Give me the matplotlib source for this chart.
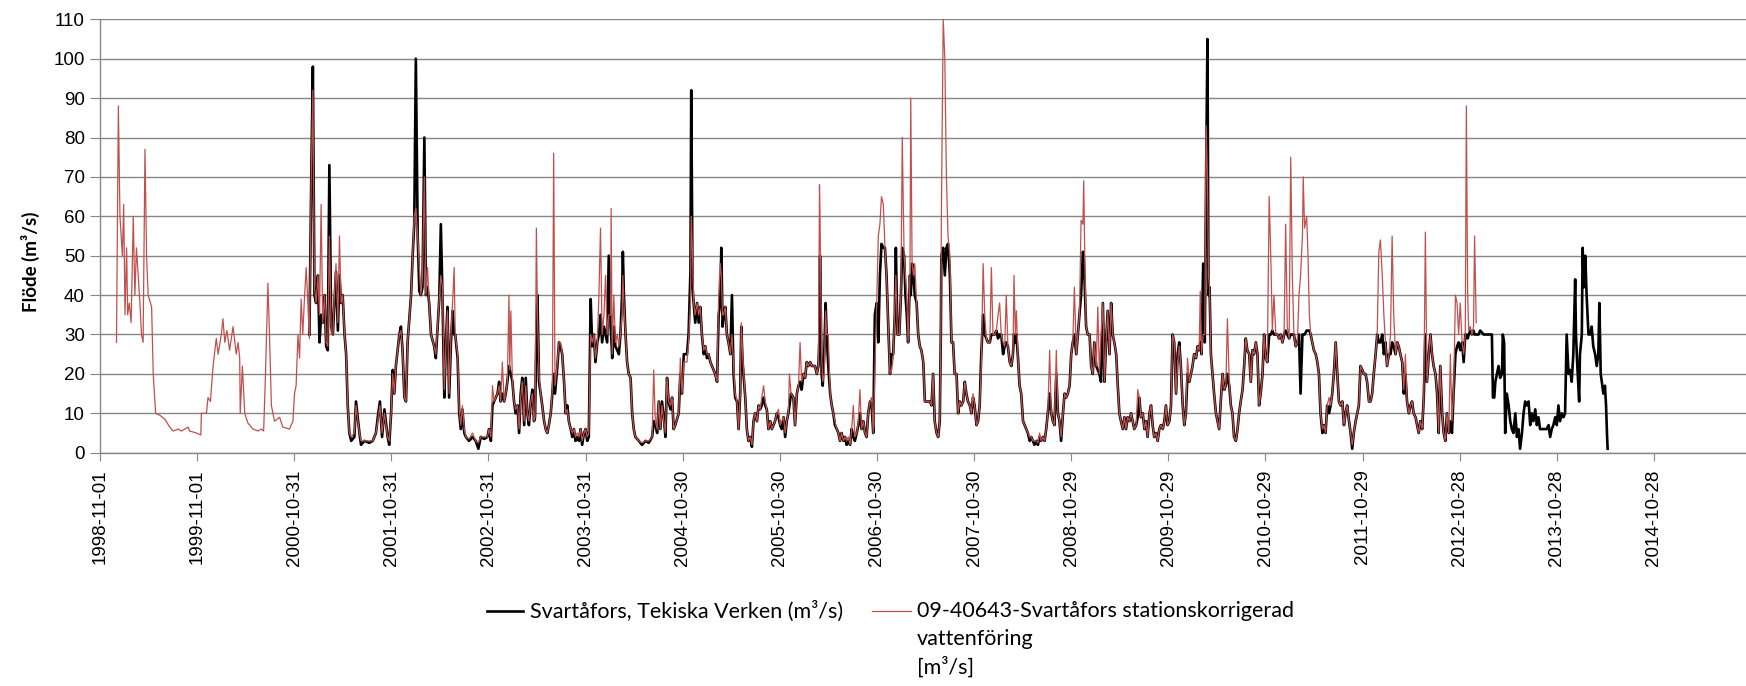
import numpy as np
import matplotlib.pyplot as plt
from matplotlib.lines import Line2D

start = np.datetime64('1998-11-01')

# red series only (before the black series starts), days since 1998-11-01
red_days_early = [62, 69, 75, 84, 89, 94, 100, 104, 110, 117, 125, 131, 137, 150, 156, 162, 169, 175,
                  181, 194, 200, 209, 225, 244, 262, 275, 294, 306, 331, 337, 362, 379, 381, 400, 406,
                  415, 425, 437, 444, 456, 462, 469, 477, 487, 500, 512, 519, 525, 527, 535, 544, 556,
                  575, 594, 606, 615, 622, 631, 637, 644, 656, 675, 687, 712, 725, 731, 737, 744, 750,
                  756, 762, 769, 775, 781]
red_early = [28, 88, 60, 50, 63, 35, 52, 35, 38, 33, 60, 40, 52, 38, 30, 28, 77, 50,
             40, 37, 20, 10, 9.5, 8.5, 6.5, 5.5, 6, 5.5, 6.5, 5.5, 5, 4.5, 10, 10, 14,
             13, 22, 29, 25, 30, 34, 28, 31, 26, 32, 25, 28, 24, 10, 22, 10, 7.5,
             6, 5.5, 6, 5.5, 20, 43, 30, 12, 8, 9, 6.5, 6, 8, 15, 17, 30, 24,
             39, 30, 40, 47, 38]

# period where both series exist: (day, black, red)
both = [
    (787, 30, 29), (794, 70, 70), (800, 98, 92), (806, 40, 42), (812, 38, 38), (819, 45, 45),
    (825, 28, 35), (831, 35, 63), (837, 33, 33), (844, 40, 40), (850, 27, 28), (856, 26, 27),
    (862, 73, 55), (869, 32, 30), (875, 30, 30), (881, 38, 40), (887, 46, 48), (894, 31, 33),
    (900, 45, 55), (906, 38, 38), (912, 40, 40), (919, 30, 30), (925, 25, 25), (931, 12, 12),
    (937, 5, 5), (944, 3, 4), (956, 4, 5), (962, 13, 12), (975, 5, 5), (981, 2, 3), (994, 3, 3),
    (1012, 2.5, 3), (1025, 3, 3), (1037, 5, 5), (1044, 9, 8), (1052, 13, 12), (1060, 4, 5),
    (1069, 11, 10), (1081, 4, 4), (1087, 2, 3), (1094, 10, 10), (1100, 21, 20), (1106, 15, 15),
    (1112, 22, 22), (1125, 30, 30), (1131, 32, 31), (1137, 26, 26), (1144, 14, 14), (1150, 13, 13),
    (1156, 28, 28), (1169, 40, 40), (1175, 50, 50), (1181, 58, 60), (1187, 100, 62), (1194, 55, 55),
    (1200, 41, 47), (1206, 40, 40), (1212, 42, 45), (1219, 80, 70), (1225, 40, 40), (1231, 42, 47),
    (1237, 38, 38), (1244, 30, 30), (1256, 27, 27), (1262, 24, 25), (1275, 39, 39), (1281, 58, 45),
    (1287, 40, 42), (1294, 14, 16), (1300, 28, 28), (1306, 37, 36), (1312, 14, 15), (1319, 28, 30),
    (1325, 36, 38), (1331, 30, 47), (1335, 30, 30), (1344, 24, 25), (1350, 10, 11), (1356, 6, 7),
    (1362, 11, 12), (1369, 5, 6), (1375, 4, 4), (1387, 3, 3.5), (1400, 4, 5), (1412, 3, 3),
    (1422, 1, 2.5), (1431, 4, 4), (1444, 3.5, 4), (1456, 4, 4), (1462, 6, 6), (1469, 3, 4),
    (1475, 12, 17), (1481, 13, 13), (1494, 15, 15), (1500, 18, 17), (1506, 13, 13), (1512, 15, 23),
    (1519, 13, 13), (1525, 15, 15), (1531, 18, 18), (1537, 22, 40), (1540, 21, 21), (1544, 20, 36),
    (1550, 18, 18), (1556, 13, 13), (1562, 10, 11), (1569, 12, 12), (1575, 5, 6), (1581, 15, 14),
    (1587, 19, 18), (1594, 7, 8), (1600, 19, 17), (1606, 10, 10), (1612, 7, 8), (1619, 13, 13),
    (1625, 16, 15), (1631, 8, 8), (1635, 9, 9), (1640, 30, 57), (1644, 40, 35), (1650, 18, 20),
    (1656, 15, 15), (1662, 12, 12), (1669, 8, 8), (1675, 6, 6), (1681, 5, 5), (1687, 7, 7),
    (1694, 10, 10), (1700, 15, 16), (1705, 20, 76), (1710, 15, 17), (1719, 22, 23), (1725, 28, 28),
    (1731, 27, 28), (1737, 25, 25), (1744, 18, 18), (1750, 10, 10), (1756, 12, 11), (1762, 8, 8),
    (1769, 6, 6), (1775, 4, 5), (1781, 6, 6), (1787, 3, 4), (1794, 4, 5), (1800, 3, 4), (1806, 6, 6),
    (1812, 2, 3), (1819, 5, 5), (1825, 6, 6), (1831, 3, 4), (1837, 4, 5), (1844, 39, 30),
    (1850, 27, 28), (1856, 30, 30), (1862, 23, 24), (1869, 28, 28), (1875, 30, 40), (1881, 35, 57),
    (1887, 28, 30), (1894, 32, 35), (1900, 30, 45), (1906, 28, 30), (1912, 50, 35), (1919, 32, 35),
    (1921, 30, 62), (1925, 24, 25), (1931, 32, 40), (1937, 27, 28), (1944, 26, 30), (1950, 25, 27),
    (1956, 30, 30), (1962, 40, 35), (1965, 51, 45), (1969, 40, 38), (1975, 30, 30), (1981, 23, 23),
    (1987, 20, 20), (1994, 19, 19), (2000, 10, 10), (2006, 6, 6), (2012, 4, 4), (2025, 3, 3),
    (2037, 2, 2.5), (2050, 3, 3), (2062, 2.5, 3), (2075, 4, 4), (2081, 8, 21), (2087, 7, 8),
    (2094, 5, 6), (2100, 13, 13), (2106, 6, 6), (2112, 13, 12), (2119, 9, 8), (2125, 4, 5),
    (2131, 19, 19), (2137, 13, 13), (2144, 11, 12), (2150, 14, 14), (2156, 6, 6), (2162, 7, 7),
    (2175, 10, 10), (2181, 20, 24), (2187, 15, 15), (2194, 25, 23), (2206, 25, 23), (2212, 30, 28),
    (2219, 46, 38), (2222, 92, 60), (2227, 42, 50), (2231, 38, 38), (2237, 33, 35), (2244, 38, 38),
    (2250, 33, 35), (2256, 37, 37), (2262, 30, 30), (2269, 25, 26), (2275, 27, 27), (2281, 24, 25),
    (2287, 25, 25), (2294, 23, 23), (2300, 22, 22), (2306, 21, 21), (2312, 20, 20), (2319, 18, 18),
    (2325, 35, 40), (2331, 38, 48), (2335, 52, 45), (2340, 32, 35), (2344, 35, 35), (2350, 37, 37),
    (2356, 30, 30), (2362, 28, 28), (2369, 25, 25), (2375, 40, 30), (2381, 20, 22), (2387, 14, 15),
    (2394, 13, 13), (2400, 6, 6), (2406, 15, 15), (2410, 32, 33), (2415, 23, 25), (2425, 14, 14),
    (2431, 6, 6), (2437, 3, 3), (2444, 4, 4), (2450, 1.5, 2), (2456, 8, 8), (2462, 10, 10),
    (2469, 8, 8), (2475, 12, 12), (2481, 11, 11), (2487, 12, 14), (2494, 14, 17), (2500, 12, 13),
    (2506, 11, 11), (2512, 6, 6), (2519, 8, 8), (2525, 6, 6), (2537, 8, 8), (2544, 10, 10),
    (2550, 9, 11), (2556, 7, 7), (2562, 6, 8), (2569, 9, 9), (2575, 4, 5), (2581, 8, 8),
    (2587, 10, 10), (2591, 12, 20), (2597, 15, 15), (2606, 14, 14), (2612, 7, 7), (2619, 15, 15),
    (2625, 17, 17), (2631, 18, 28), (2637, 16, 18), (2644, 20, 20), (2650, 19, 19), (2656, 23, 23),
    (2662, 22, 22), (2669, 23, 23), (2675, 22, 22), (2687, 22, 22), (2694, 20, 20), (2700, 22, 22),
    (2704, 30, 68), (2706, 50, 60), (2712, 20, 25), (2716, 17, 18), (2722, 25, 20), (2727, 38, 36),
    (2731, 30, 30), (2737, 22, 30), (2744, 15, 15), (2750, 12, 12), (2756, 10, 10), (2762, 7, 8),
    (2769, 6, 6), (2775, 5, 5), (2781, 3, 3), (2787, 5, 5), (2794, 3, 3), (2800, 4, 4), (2806, 2, 3),
    (2812, 3, 4), (2819, 2, 2), (2825, 6, 6), (2831, 4, 12), (2837, 3, 4), (2844, 5, 5),
    (2850, 7, 8), (2856, 10, 16), (2862, 6, 6), (2869, 8, 8), (2875, 5, 5), (2881, 4, 4),
    (2887, 10, 10), (2894, 13, 13), (2900, 12, 14), (2906, 5, 5), (2912, 35, 20), (2919, 38, 38),
    (2925, 28, 55), (2931, 45, 58), (2937, 53, 65), (2944, 52, 63), (2950, 52, 52), (2956, 45, 45),
    (2962, 33, 33), (2969, 20, 20), (2975, 25, 21), (2981, 25, 24), (2987, 35, 37), (2991, 52, 45),
    (2997, 30, 30), (3004, 30, 30), (3010, 40, 40), (3015, 52, 80), (3022, 50, 50), (3027, 40, 45),
    (3032, 35, 40), (3037, 28, 28), (3044, 45, 45), (3047, 40, 90), (3052, 48, 48), (3057, 45, 45),
    (3062, 40, 48), (3069, 38, 38), (3075, 30, 30), (3081, 27, 27), (3087, 26, 26), (3094, 23, 23),
    (3100, 13, 13), (3106, 13, 13), (3112, 13, 13), (3119, 13, 13), (3125, 12, 12), (3131, 20, 20),
    (3137, 8, 8), (3144, 5, 5), (3150, 4, 4), (3156, 8, 8), (3160, 30, 30), (3162, 50, 60),
    (3169, 52, 110), (3175, 45, 100), (3181, 52, 70), (3187, 53, 55), (3194, 45, 50), (3200, 28, 28),
    (3206, 28, 28), (3212, 20, 20), (3219, 20, 20), (3225, 10, 10), (3231, 13, 13), (3237, 12, 12),
    (3244, 13, 13), (3250, 18, 18), (3256, 15, 15), (3262, 13, 13), (3269, 12, 12), (3275, 10, 10),
    (3281, 14, 15), (3287, 12, 12), (3294, 7, 7), (3300, 8, 8), (3306, 12, 12), (3312, 25, 22),
    (3319, 35, 48), (3325, 30, 35), (3331, 29, 29), (3337, 28, 28), (3344, 28, 28), (3350, 30, 47),
    (3356, 30, 30), (3362, 30, 30), (3369, 31, 31), (3375, 29, 35), (3381, 30, 38), (3387, 30, 30),
    (3394, 25, 28), (3400, 27, 27), (3406, 28, 40), (3412, 27, 27), (3419, 23, 23), (3425, 22, 22),
    (3431, 25, 25), (3435, 30, 45), (3440, 28, 30), (3444, 30, 36), (3450, 24, 24), (3456, 17, 17),
    (3462, 15, 15), (3469, 8, 8), (3475, 7, 7), (3481, 6, 6), (3487, 5, 5), (3494, 3, 4),
    (3500, 4, 4), (3506, 3, 3), (3512, 2, 3), (3519, 3, 3), (3525, 2, 2.5), (3531, 4, 5),
    (3537, 3, 3), (3544, 4, 4), (3550, 3, 3), (3556, 6, 6), (3562, 10, 10), (3569, 15, 26),
    (3575, 10, 10), (3581, 8, 8), (3587, 7, 7), (3594, 20, 26), (3600, 10, 10), (3606, 8, 8),
    (3612, 3, 4), (3619, 10, 10), (3625, 15, 15), (3631, 14, 14), (3637, 15, 15), (3644, 17, 17),
    (3650, 25, 25), (3656, 28, 28), (3662, 30, 42), (3669, 25, 25), (3675, 30, 30), (3681, 35, 35),
    (3687, 40, 59), (3694, 51, 58), (3697, 50, 69), (3702, 40, 45), (3706, 32, 32), (3712, 30, 30),
    (3719, 30, 30), (3725, 22, 22), (3731, 20, 20), (3737, 28, 28), (3744, 22, 22), (3750, 21, 37),
    (3756, 20, 20), (3762, 18, 30), (3769, 38, 38), (3775, 18, 18), (3781, 28, 28), (3787, 36, 36),
    (3794, 25, 25), (3800, 38, 38), (3806, 30, 30), (3812, 28, 28), (3819, 25, 25), (3825, 17, 17),
    (3831, 10, 10), (3837, 8, 8), (3844, 6, 6), (3850, 9, 9), (3856, 6, 6), (3862, 9, 9),
    (3869, 8, 8), (3875, 10, 10), (3881, 8, 8), (3887, 6, 6), (3894, 7, 7), (3900, 9, 16),
    (3906, 14, 14), (3912, 9, 9), (3919, 10, 10), (3925, 6, 6), (3931, 8, 8), (3937, 4, 4),
    (3944, 10, 10), (3950, 12, 12), (3956, 7, 7), (3962, 4, 4), (3969, 5, 5), (3975, 3, 3),
    (3981, 6, 6), (3987, 7, 7), (3994, 6, 6), (4000, 8, 8), (4006, 12, 12), (4012, 7, 7),
    (4019, 8, 8), (4025, 12, 12), (4031, 30, 30), (4037, 28, 28), (4044, 15, 15), (4050, 25, 23),
    (4056, 28, 27), (4062, 22, 22), (4069, 12, 12), (4075, 7, 7), (4081, 10, 10), (4087, 20, 24),
    (4094, 18, 18), (4100, 20, 20), (4106, 22, 22), (4112, 25, 25), (4119, 24, 24), (4125, 27, 27),
    (4131, 26, 26), (4135, 28, 41), (4140, 25, 25), (4146, 48, 30), (4152, 28, 30), (4157, 70, 83),
    (4162, 105, 70), (4166, 40, 45), (4170, 42, 42), (4175, 25, 25), (4181, 20, 20), (4187, 15, 15),
    (4194, 10, 10), (4200, 8, 8), (4206, 6, 6), (4212, 13, 13), (4219, 20, 20), (4225, 16, 16),
    (4231, 17, 17), (4237, 20, 34), (4244, 17, 18), (4250, 12, 12), (4256, 10, 10), (4262, 4, 4),
    (4269, 3, 3), (4275, 6, 6), (4281, 10, 10), (4287, 13, 13), (4294, 16, 16), (4300, 22, 22),
    (4306, 29, 29), (4312, 26, 26), (4319, 25, 25), (4325, 18, 18), (4331, 26, 26), (4337, 25, 25),
    (4344, 28, 28), (4350, 25, 25), (4356, 12, 12), (4362, 15, 15), (4369, 20, 20), (4375, 30, 30),
    (4381, 24, 24), (4387, 23, 23), (4394, 30, 65), (4400, 30, 50), (4406, 31, 31), (4412, 30, 40),
    (4419, 30, 30), (4425, 30, 30), (4431, 29, 29), (4437, 30, 30), (4444, 28, 28), (4450, 30, 30),
    (4456, 31, 58), (4462, 30, 32), (4469, 29, 29), (4475, 30, 75), (4481, 30, 45), (4487, 30, 30),
    (4494, 27, 27), (4500, 28, 28), (4506, 30, 40), (4512, 15, 45), (4519, 30, 55), (4522, 30, 70),
    (4527, 30, 57), (4535, 31, 60), (4540, 31, 50), (4545, 31, 35), (4550, 30, 30), (4556, 28, 28),
    (4562, 26, 26), (4569, 25, 25), (4575, 23, 23), (4581, 20, 20), (4587, 10, 10), (4594, 5, 6),
    (4600, 7, 7), (4606, 5, 5), (4612, 12, 12), (4619, 10, 14), (4625, 12, 12), (4631, 15, 15),
    (4637, 20, 20), (4644, 28, 28), (4650, 20, 20), (4656, 13, 13), (4662, 12, 12), (4669, 13, 13),
    (4675, 7, 7), (4681, 10, 10), (4687, 12, 12), (4694, 8, 8), (4700, 5, 5), (4706, 1, 2),
    (4712, 5, 5), (4719, 8, 8), (4725, 10, 10), (4731, 12, 12), (4737, 22, 22), (4744, 21, 21),
    (4750, 20, 20), (4756, 20, 20), (4762, 18, 18), (4769, 13, 13), (4775, 13, 13), (4781, 15, 15),
    (4787, 20, 20), (4794, 25, 25), (4800, 30, 30), (4806, 28, 51), (4812, 28, 54), (4819, 30, 45),
    (4825, 25, 35), (4831, 28, 28), (4837, 22, 22), (4844, 25, 25), (4850, 25, 30), (4856, 28, 55),
    (4862, 27, 35), (4869, 25, 25), (4875, 28, 28), (4881, 27, 27), (4887, 25, 25), (4894, 23, 23),
    (4900, 15, 16), (4906, 20, 25), (4912, 13, 13), (4919, 10, 10), (4925, 12, 12), (4931, 13, 13),
    (4937, 10, 10), (4944, 9, 9), (4950, 7, 7), (4956, 5, 5), (4962, 8, 8), (4969, 6, 6),
    (4975, 14, 14), (4981, 30, 56), (4987, 18, 18), (4994, 25, 25), (5000, 30, 30), (5006, 25, 25),
    (5012, 22, 22), (5019, 20, 20), (5025, 15, 15), (5031, 5, 5), (5037, 22, 22), (5044, 10, 10),
    (5050, 5, 5), (5056, 3, 3), (5062, 10, 10), (5069, 5, 5), (5075, 8, 25), (5081, 5, 8),
    (5087, 15, 15), (5094, 25, 40), (5100, 27, 38), (5106, 28, 30), (5112, 26, 38), (5119, 28, 28),
    (5125, 23, 25), (5131, 30, 30), (5135, 30, 88), (5140, 29, 40), (5144, 30, 31), (5150, 31, 32),
    (5156, 30, 30), (5162, 31, 32), (5166, 30, 55), (5172, 30, 33),
]

# black series only (after the red series ends)
black_days_late = [5181, 5187, 5200, 5212, 5225, 5231, 5235, 5240, 5244, 5250, 5256, 5262, 5269,
                   5272, 5277, 5281, 5287, 5294, 5300, 5306, 5312, 5319, 5325, 5331, 5337, 5344,
                   5350, 5356, 5362, 5369, 5375, 5381, 5387, 5394, 5400, 5406, 5412, 5425, 5437,
                   5444, 5450, 5456, 5462, 5469, 5475, 5481, 5487, 5494, 5500, 5506, 5512, 5519,
                   5525, 5531, 5537, 5544, 5547, 5552, 5559, 5562, 5569, 5572, 5577, 5582, 5587,
                   5594, 5600, 5606, 5612, 5619, 5625, 5631, 5635, 5640, 5644, 5650, 5656, 5660,
                   5664, 5666]
black_late = [30, 31, 30, 30, 30, 30, 14, 14, 18, 20, 22, 19, 20,
              30, 28, 5, 15, 12, 8, 6, 5, 10, 4, 6, 1, 5,
              10, 13, 12, 13, 7, 10, 8, 11, 7, 9, 6, 6, 6,
              7, 4, 6, 7, 9, 7, 12, 8, 10, 9, 10, 30, 20,
              21, 18, 25, 44, 30, 22, 13, 25, 30, 52, 42, 50, 40,
              30, 30, 32, 27, 25, 22, 25, 38, 20, 18, 15, 17, 12,
              4, 1]

tick_labels = ['1998-11-01', '1999-11-01', '2000-10-31', '2001-10-31', '2002-10-31', '2003-10-31',
               '2004-10-30', '2005-10-30', '2006-10-30', '2007-10-30', '2008-10-29', '2009-10-29',
               '2010-10-29', '2011-10-29', '2012-10-28', '2013-10-28', '2014-10-28']

both_days = [b[0] for b in both]
both_black = [b[1] for b in both]
both_red = [b[2] for b in both]

black_days = np.array(both_days + black_days_late)
black = np.array(both_black + black_late)
red_days = np.array(red_days_early + both_days)
red = np.array(red_early + both_red)

def to_date(d):
    return start + np.asarray(d).astype('timedelta64[D]')

fig = plt.figure(figsize=(17.46, 6.86), dpi=100)
ax = fig.add_axes([100 / 1746, 1 - 452.7 / 686, 1646 / 1746, 433.4 / 686])

ax.plot(to_date(black_days), black, color='black', lw=1.9, zorder=3)
ax.plot(to_date(red_days), red, color='#C0504D', lw=0.9, zorder=4)

tick_dates = np.array(tick_labels, dtype='datetime64[D]')
ax.set_xticks(tick_dates)
ax.set_xticklabels(tick_labels, rotation=90, fontsize=13.5, family='Liberation Sans')
ax.set_xlim(start, start + np.timedelta64(6186, 'D'))
ax.set_ylim(0, 110)
ax.set_yticks(range(0, 111, 10))
ax.tick_params(axis='y', labelsize=13.5, length=7, color='#868686', pad=4)
ax.tick_params(axis='x', length=6, color='#868686', pad=6)
for lab in ax.get_yticklabels():
    lab.set_family('Liberation Sans')
ax.grid(axis='y', color='#868686', lw=1)
ax.set_axisbelow(True)
for s in ['top', 'right']:
    ax.spines[s].set_visible(False)
for s in ['left', 'bottom']:
    ax.spines[s].set_color('#868686')
    ax.spines[s].set_linewidth(1)

fig.text(30 / 1746, 1 - 262 / 686, 'Flöde (m³/s)', rotation=90, ha='center', va='center',
         fontsize=13.5, fontweight='bold', family='Lato')

# legend, placed like the original (first line aligned with the line sample)
y1 = 1 - 611 / 686
dy = 28 / 686
fig.add_artist(Line2D([487 / 1746, 523 / 1746], [y1, y1], color='black', lw=1.9))
fig.text(530 / 1746, y1, 'Svartåfors, Tekiska Verken (m³/s)', va='center', fontsize=15.5, family='Lato')
fig.add_artist(Line2D([872 / 1746, 911 / 1746], [y1, y1], color='#C0504D', lw=0.9))
for i, t in enumerate(['09-40643-Svartåfors stationskorrigerad', 'vattenföring', '[m³/s]']):
    fig.text(917 / 1746, y1 - i * dy, t, va='center', fontsize=15.5, family='Lato')

fig.savefig('out.png', dpi=100)
